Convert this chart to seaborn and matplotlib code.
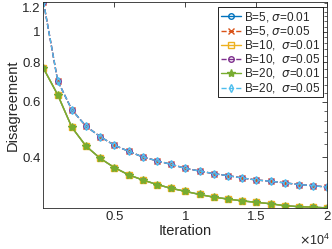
import numpy as np
import pandas as pd
import matplotlib
matplotlib.use("Agg")
import matplotlib.pyplot as plt
import seaborn as sns
from matplotlib.ticker import FixedLocator, NullFormatter

# data
iterations = [0, 1000, 2000, 3000, 4000, 5000, 6000, 7000, 8000, 9000, 10000,
              11000, 12000, 13000, 14000, 15000, 16000, 17000, 18000, 19000, 20000]
sigma_005 = [1.245, 0.699, 0.565, 0.501, 0.464, 0.436, 0.417, 0.400, 0.389, 0.379, 0.368,
             0.361, 0.354, 0.349, 0.343, 0.338, 0.335, 0.331, 0.327, 0.324, 0.321]
sigma_001 = [0.766, 0.631, 0.497, 0.433, 0.396, 0.370, 0.351, 0.338, 0.327, 0.318, 0.311,
             0.304, 0.298, 0.294, 0.290, 0.287, 0.284, 0.280, 0.278, 0.277, 0.2755]

labels = ["B=5, $\\sigma$=0.01", "B=5, $\\sigma$=0.05", "B=10,  $\\sigma$=0.01",
          "B=10,  $\\sigma$=0.05", "B=20,  $\\sigma$=0.01", "B=20,  $\\sigma$=0.05"]
values = [sigma_001, sigma_005, sigma_001, sigma_005, sigma_001, sigma_005]
colors = ["#0072BD", "#D95319", "#EDB120", "#7E2F8E", "#77AC30", "#4DBEEE"]
markers = ["o", "x", "s", "o", "*", "d"]
styles = ["-", "--", "-", "--", "-", "--"]

xticks = [5000, 10000, 15000, 20000]
xticklabels = ["0.5", "1", "1.5", "2"]
yticks = [0.4, 0.6, 0.8, 1.0, 1.2]
yticklabels = ["0.4", "0.6", "0.8", "1", "1.2"]

sns.set_style("white")
plt.rcParams["font.family"] = ["Liberation Sans", "DejaVu Sans"]
plt.rcParams["mathtext.fontset"] = "dejavusans"

fig = plt.figure(figsize=(3.32, 2.49), dpi=100)
ax = fig.add_axes([0.131, 0.165, 0.855, 0.827])

for lab, v, c, m, ls in zip(labels, values, colors, markers, styles):
    filled = m == "*"
    sns.lineplot(x=iterations, y=v, ax=ax, color=c, marker=m, linestyle=ls,
                 linewidth=1.0, markersize=6 if filled else 4,
                 markerfacecolor=c if filled else "none",
                 markeredgecolor=c, markeredgewidth=1.0, label=lab)

ax.set_yscale("log")
ax.set_xlim(0, 20000)
ax.set_ylim(0.2755, 1.245)
ax.yaxis.set_major_locator(FixedLocator(yticks))
ax.set_yticklabels(yticklabels)
ax.yaxis.set_minor_locator(FixedLocator(np.arange(0.28, 1.25, 0.04)))
ax.yaxis.set_minor_formatter(NullFormatter())

ax.set_xticks(xticks)
ax.set_xticklabels(xticklabels)
fig.text(0.995, 0.005, "$\\times\\mathdefault{10^{4}}$", ha="right", va="bottom",
         fontsize=9, color="#262626")

ax.tick_params(which="both", direction="in", top=True, right=True,
               labelsize=9.5, colors="#262626", pad=2)
ax.tick_params(which="major", length=3.5, width=0.6)
ax.tick_params(which="minor", length=2, width=0.5)
for s in ax.spines.values():
    s.set_color("#262626")
    s.set_linewidth(0.6)

ax.set_xlabel("Iteration", fontsize=10.5, labelpad=1)
ax.set_ylabel("Disagreement", fontsize=10.5, labelpad=2)

leg = ax.legend(loc="upper right", bbox_to_anchor=(0.985, 0.975), fontsize=8.5,
                frameon=True, fancybox=False, edgecolor="black", framealpha=1,
                handlelength=1.7, handleheight=0.4, handletextpad=0.3,
                labelspacing=0.02, borderpad=0.2, borderaxespad=0)
leg.get_frame().set_linewidth(0.6)

fig.savefig("out.png", dpi=100)
